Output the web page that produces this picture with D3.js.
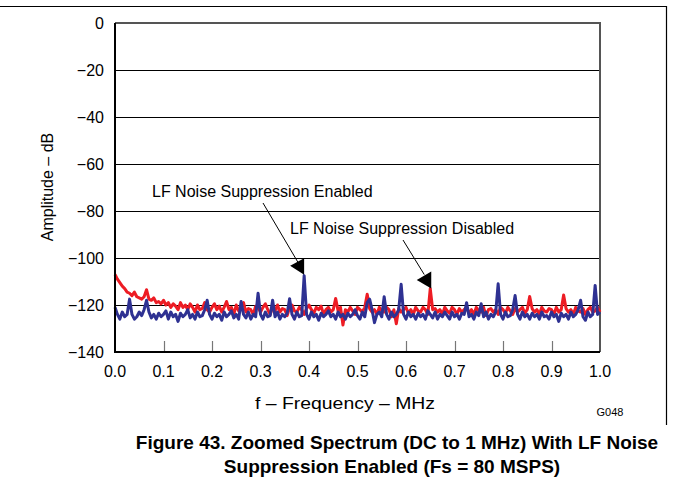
<!DOCTYPE html>
<html><head><meta charset="utf-8">
<script src="https://cdn.jsdelivr.net/npm/d3@7"></script>
<style>body{margin:0;background:#fff}svg{display:block;font-family:"Liberation Sans",Arial,sans-serif}</style>
</head><body><svg id="c" width="673" height="493"></svg>
<script>
const freqStep = 0.005; // MHz between samples (0.0 .. 1.0)
const yTicks = [0, -20, -40, -60, -80, -100, -120, -140];
const xTicks = [0.0, 0.1, 0.2, 0.3, 0.4, 0.5, 0.6, 0.7, 0.8, 0.9, 1.0];
const disabledDb = [
-107,-109,-110.5,-112,-113,-114.5,-115,-116,-114.5,-116.5,
-117,-117.5,-116.5,-113.5,-117.5,-118,-117,-119,-118.5,-119.5,
-118,-120,-119,-121,-119.5,-120.5,-122,-119,-121,-120,
-122,-119.5,-121,-123,-120,-122,-121.5,-119,-122,-123,
-121,-119.5,-122,-120.5,-123,-121,-118.5,-122,-121,-124,
-120,-122.5,-121,-119,-123,-121.5,-122,-124,-120.5,-121,
-123,-121,-119.5,-122,-124,-121,-122.5,-120,-123,-121.5,
-122,-124.5,-121,-120,-122.5,-123,-121,-122,-124,-121.5,
-120,-122,-123.5,-121,-122,-120.5,-124,-122,-121,-123,
-122,-117.2,-122.5,-121,-128.5,-122,-123,-121,-122.5,-124,
-121,-122,-123,-121,-115.4,-121.5,-123,-122,-124,-121,
-122.5,-123,-121,-122,-125,-122,-128,-121.5,-123,-122,
-121,-123.5,-122,-124,-121,-122.5,-123,-121,-122,-124,
-113,-122,-121.5,-123,-122,-124,-121,-122.5,-123.5,-121,
-122,-124,-121.5,-123,-122,-121,-123.5,-122,-124,-121,
-122.5,-123,-121,-124.5,-122,-121.5,-123,-122,-124,-121,
-122,-123.5,-121,-122.5,-124,-121.5,-123,-122,-121,-123.5,
-122,-116.4,-121.5,-123,-122,-124,-121,-122.5,-123,-121.5,
-122,-124,-121,-123,-122,-115.7,-121.5,-123,-122,-124,
-121,-122.5,-123,-121.5,-124,-122,-121,-123,-122.5,-121,
-123];
const enabledDb = [
-121,-124,-126,-123,-125,-124,-117.5,-124,-126,-125,
-123,-124.5,-122,-118,-123,-125.5,-124,-126,-123.5,-125,
-124,-122.5,-126,-123,-125,-124,-127,-123.5,-125,-124,
-122,-125.5,-124,-126,-123,-125,-124.5,-122,-118,-124,
-126,-123.5,-125,-124,-126.5,-123,-125,-124,-122.5,-125.5,
-124,-126,-118.5,-124,-125.5,-123,-126,-124,-125,-115,
-124,-126,-123,-125,-124.5,-118,-125,-123,-126,-124,
-125,-123.5,-117.3,-124,-126,-123,-125,-124.5,-107.5,-124,
-126,-123,-125,-124,-126.5,-123.5,-125,-124,-122.5,-125,
-124,-126,-123,-125,-124,-126,-123.5,-125,-124,-122,
-124.5,-126,-123,-125,-119,-117.5,-122,-127.5,-124,-123,
-125,-116.5,-124,-126,-123,-125,-124,-122,-111.2,-124,
-126,-123,-125,-124,-126,-123.5,-125,-124,-126,-122.5,
-124,-125.5,-123,-126,-124,-125,-123,-124.5,-126,-123,
-125,-124,-126,-123.5,-124,-119,-125,-124,-126,-123,
-124.5,-119.5,-125,-123,-126,-124,-125,-123,-111,-124,
-126,-123,-125,-124.5,-122,-116,-124,-126,-123,-125,
-124,-126,-123.5,-125,-124,-126,-123,-125,-124.5,-126,
-123,-125,-124,-127,-123.5,-125,-124,-126,-123,-125,
-124,-122,-118,-125,-126.5,-123,-125,-124,-111.7,-124,
-123];

const svg = d3.select("#c");
const L = 115, R = 600, T = 23, B = 352;
const x = d3.scaleLinear().domain([0, 1]).range([L, R]);
const y = d3.scaleLinear().domain([-140, 0]).range([B, T]);
const fmtY = d => d === 0 ? "0" : "\u2212" + Math.abs(d);
const snap = v => Math.round(v) + 0.5;

// page frame
svg.append("path").attr("d", "M0,6.5H666.5V425").attr("fill", "none").attr("stroke", "#000").attr("stroke-width", 1.2);

// grid lines
svg.append("g").selectAll("line").data(yTicks.filter(d => d > -140 && d < 0)).join("line")
  .attr("x1", L).attr("x2", R).attr("y1", d => snap(y(d))).attr("y2", d => snap(y(d)))
  .attr("stroke", "#000").attr("stroke-width", 1).attr("shape-rendering", "crispEdges");

// x ticks inside
svg.append("g").selectAll("line").data(xTicks.slice(1, -1)).join("line")
  .attr("x1", d => snap(x(d))).attr("x2", d => snap(x(d))).attr("y1", B).attr("y2", B - 11)
  .attr("stroke", "#777").attr("stroke-width", 1.2);

// top & right frame (gray)
svg.append("path").attr("d", `M${L},${T}H${R}V${B}`).attr("fill", "none").attr("stroke", "#555").attr("stroke-width", 2);

// data
const line = d3.line().x((d, i) => x(i * freqStep)).y(d => y(d));
svg.append("path").datum(disabledDb).attr("d", line).attr("fill", "none")
  .attr("stroke", "#ed1c24").attr("stroke-width", 3).attr("stroke-linejoin", "round");
svg.append("path").datum(enabledDb).attr("d", line).attr("fill", "none")
  .attr("stroke", "#2e3192").attr("stroke-width", 3).attr("stroke-linejoin", "round");

// left & bottom axis
svg.append("path").attr("d", `M${L},${T}V${B}H${R}`).attr("fill", "none").attr("stroke", "#000").attr("stroke-width", 2);

// y tick labels
svg.append("g").selectAll("text").data(yTicks).join("text")
  .attr("x", 104).attr("y", d => y(d)).attr("dy", "0.35em").attr("text-anchor", "end")
  .attr("font-size", 16).text(fmtY);
// x tick labels
svg.append("g").selectAll("text").data(xTicks).join("text")
  .attr("x", d => x(d)).attr("y", 371).attr("dy", "0.35em").attr("text-anchor", "middle")
  .attr("font-size", 16).text(d => d.toFixed(1));

svg.append("text").attr("transform", `translate(47,187) rotate(-90)`)
  .attr("text-anchor", "middle").attr("dy", "0.35em").attr("font-size", 16).text("Amplitude \u2013 dB");
svg.append("text").attr("x", 255).attr("y", 403).attr("dy", "0.35em")
  .attr("font-size", 16).attr("textLength", 180).attr("lengthAdjust", "spacingAndGlyphs").text("f \u2013 Frequency \u2013 MHz");
svg.append("text").attr("x", 610).attr("y", 412).attr("dy", "0.35em").attr("text-anchor", "middle")
  .attr("font-size", 11).text("G048");

// annotations
const ann = svg.append("g");
ann.append("text").attr("x", 152).attr("y", 191).attr("dy", "0.35em").attr("font-size", 16).text("LF Noise Suppression Enabled");
ann.append("text").attr("x", 290).attr("y", 228).attr("dy", "0.35em").attr("font-size", 16).text("LF Noise Suppression Disabled");
const enX = x(78 * freqStep), enY = y(enabledDb[78]);
ann.append("line").attr("x1", 263).attr("y1", 203).attr("x2", enX - 6).attr("y2", enY - 13).attr("stroke", "#000").attr("stroke-width", 1);
ann.append("path").attr("d", `M${enX - 14},${enY - 10}L${enX},${enY - 17.5}L${enX},${enY - 1}Z`).attr("fill", "#000");
const diX = x(130 * freqStep), diY = y(disabledDb[130]);
ann.append("line").attr("x1", 403).attr("y1", 240).attr("x2", diX - 6).attr("y2", diY - 14).attr("stroke", "#000").attr("stroke-width", 1);
ann.append("path").attr("d", `M${diX - 13.5},${diY - 8.5}L${diX + 1},${diY - 17}L${diX + 1},${diY}Z`).attr("fill", "#000");

// caption
svg.append("text").attr("x", 397).attr("y", 442).attr("dy", "0.35em").attr("text-anchor", "middle")
  .attr("font-size", 19).attr("font-weight", "bold").text("Figure 43. Zoomed Spectrum (DC to 1 MHz) With LF Noise");
svg.append("text").attr("x", 392).attr("y", 466).attr("dy", "0.35em").attr("text-anchor", "middle")
  .attr("font-size", 19).attr("font-weight", "bold").text("Suppression Enabled (Fs = 80 MSPS)");
</script></body></html>
